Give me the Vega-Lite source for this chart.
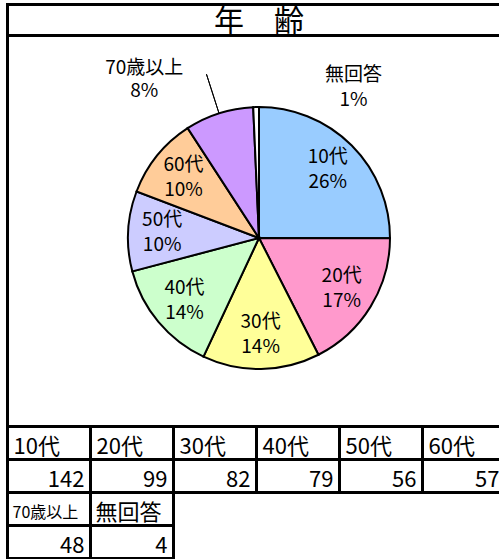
{
  "$schema": "https://vega.github.io/schema/vega-lite/v6.json",
  "padding": {"left": 4.5, "top": 1.5, "right": 0, "bottom": 0},
  "spacing": 0,
  "bounds": "flush",
  "background": "white",
  "config": {
    "font": "Noto Sans CJK JP",
    "view": {"stroke": "black", "strokeWidth": 3},
    "text": {"font": "Noto Sans CJK JP", "color": "black"},
    "concat": {"spacing": 0}
  },
  "datasets": {
    "age": [
      {"group": "10代", "count": 142, "pct": "26%", "order": 1},
      {"group": "20代", "count": 99, "pct": "17%", "order": 2},
      {"group": "30代", "count": 82, "pct": "14%", "order": 3},
      {"group": "40代", "count": 79, "pct": "14%", "order": 4},
      {"group": "50代", "count": 56, "pct": "10%", "order": 5},
      {"group": "60代", "count": 57, "pct": "10%", "order": 6},
      {"group": "70歳以上", "count": 48, "pct": "8%", "order": 7},
      {"group": "無回答", "count": 4, "pct": "1%", "order": 8}
    ]
  },
  "vconcat": [
    {
      "width": 503,
      "height": 31,
      "view": {"stroke": "black", "strokeWidth": 3},
      "data": {"values": [{"title": "年　齢"}]},
      "layer": [
        {
          "mark": {"type": "rect", "x": 0, "y": 0, "x2": "width", "y2": "height", "fill": null, "stroke": "black", "strokeWidth": 3},
          "encoding": {}
        },
        {
          "mark": {"type": "text", "fontSize": 30, "dy": 2},
          "encoding": {"text": {"field": "title", "type": "nominal"}}
        }
      ]
    },
    {
      "width": 503,
      "height": 391,
      "view": {"stroke": "black", "strokeWidth": 3},
      "data": {"name": "age"},
      "layer": [
        {
          "data": {"values": [{"frame": 1}]},
          "mark": {"type": "rect", "x": 0, "y": 0, "x2": "width", "y2": "height", "fill": null, "stroke": "black", "strokeWidth": 3},
          "encoding": {}
        },
        {
          "mark": {"type": "arc", "radius": 172, "radius2": 131, "padAngle": 1.5, "fill": null, "stroke": "black", "strokeWidth": 1, "y": {"expr": "item.mark.group.height/2+7"}},
          "encoding": {
            "theta": {"field": "count", "type": "quantitative", "stack": true},
            "order": {"field": "order", "type": "quantitative"},
            "strokeOpacity": {"condition": {"test": "datum.order === 7", "value": 1}, "value": 0}
          }
        },
        {
          "mark": {"type": "arc", "outerRadius": 131, "stroke": "black", "strokeWidth": 2, "y": {"expr": "item.mark.group.height/2+7"}},
          "encoding": {
            "theta": {"field": "count", "type": "quantitative", "stack": true},
            "order": {"field": "order", "type": "quantitative"},
            "color": {
              "field": "group", "type": "nominal", "legend": null,
              "scale": {
                "domain": ["10代", "20代", "30代", "40代", "50代", "60代", "70歳以上", "無回答"],
                "range": ["#99CCFF", "#FF99CC", "#FFFF99", "#CCFFCC", "#CCCCFF", "#FFCC99", "#CC99FF", "#FFFFFF"]
              }
            }
          }
        },
        {
          "transform": [{"filter": "datum.order <= 6"}],
          "mark": {"type": "text", "radius": 97, "dy": -12.5, "fontSize": 19, "y": {"expr": "item.mark.group.height/2+7"}},
          "encoding": {
            "theta": {"field": "count", "type": "quantitative", "stack": true},
            "order": {"field": "order", "type": "quantitative"},
            "text": {"field": "group", "type": "nominal"}
          }
        },
        {
          "transform": [{"filter": "datum.order <= 6"}],
          "mark": {"type": "text", "radius": 97, "dy": 12.5, "fontSize": 19, "y": {"expr": "item.mark.group.height/2+7"}},
          "encoding": {
            "theta": {"field": "count", "type": "quantitative", "stack": true},
            "order": {"field": "order", "type": "quantitative"},
            "text": {"field": "pct", "type": "nominal"}
          }
        },
        {
          "mark": {"type": "text", "radius": 140, "dx": -72, "dy": -36.5, "fontSize": 19, "y": {"expr": "item.mark.group.height/2+7"}},
          "encoding": {
            "theta": {"field": "count", "type": "quantitative", "stack": true},
            "order": {"field": "order", "type": "quantitative"},
            "text": {"condition": {"test": "datum.order !== 7", "value": ""}, "field": "group", "type": "nominal"}
          }
        },
        {
          "mark": {"type": "text", "radius": 140, "dx": -72, "dy": -13.5, "fontSize": 19, "y": {"expr": "item.mark.group.height/2+7"}},
          "encoding": {
            "theta": {"field": "count", "type": "quantitative", "stack": true},
            "order": {"field": "order", "type": "quantitative"},
            "text": {"condition": {"test": "datum.order !== 7", "value": ""}, "field": "pct", "type": "nominal"}
          }
        },
        {
          "mark": {"type": "text", "radius": 140, "dx": 97.5, "dy": -23, "fontSize": 19, "y": {"expr": "item.mark.group.height/2+7"}},
          "encoding": {
            "theta": {"field": "count", "type": "quantitative", "stack": true},
            "order": {"field": "order", "type": "quantitative"},
            "text": {"condition": {"test": "datum.order !== 8", "value": ""}, "field": "group", "type": "nominal"}
          }
        },
        {
          "mark": {"type": "text", "radius": 140, "dx": 97.5, "dy": 1.5, "fontSize": 19, "y": {"expr": "item.mark.group.height/2+7"}},
          "encoding": {
            "theta": {"field": "count", "type": "quantitative", "stack": true},
            "order": {"field": "order", "type": "quantitative"},
            "text": {"condition": {"test": "datum.order !== 8", "value": ""}, "field": "pct", "type": "nominal"}
          }
        }
      ]
    },
    {
      "width": 498,
      "height": 66,
      "view": {"stroke": null},
      "data": {"name": "age"},
      "transform": [{"filter": "datum.order <= 6"}],
      "encoding": {
        "x": {"field": "group", "type": "nominal", "sort": ["10代", "20代", "30代", "40代", "50代", "60代"], "axis": null, "scale": {"paddingInner": 0, "paddingOuter": 0}}
      },
      "layer": [
        {
          "mark": {"type": "rect", "fill": "white", "stroke": "black", "strokeWidth": 3},
          "encoding": {"y": {"datum": "header", "type": "nominal", "axis": null, "scale": {"domain": ["header", "value"], "paddingInner": 0, "paddingOuter": 0}}}
        },
        {
          "mark": {"type": "rect", "fill": "white", "stroke": "black", "strokeWidth": 3},
          "encoding": {"y": {"datum": "value", "type": "nominal"}}
        },
        {
          "mark": {"type": "text", "align": "left", "dx": 6, "dy": 4, "fontSize": 22},
          "encoding": {
            "x": {"field": "group", "type": "nominal", "sort": ["10代", "20代", "30代", "40代", "50代", "60代"], "bandPosition": 0},
            "y": {"datum": "header", "type": "nominal"},
            "text": {"field": "group", "type": "nominal"}
          }
        },
        {
          "mark": {"type": "text", "align": "right", "dx": -6, "dy": 4, "fontSize": 22},
          "encoding": {
            "x": {"field": "group", "type": "nominal", "sort": ["10代", "20代", "30代", "40代", "50代", "60代"], "bandPosition": 1},
            "y": {"datum": "value", "type": "nominal"},
            "text": {"field": "count", "type": "quantitative"}
          }
        }
      ]
    },
    {
      "width": 166,
      "height": 66,
      "view": {"stroke": null},
      "data": {"name": "age"},
      "transform": [{"filter": "datum.order >= 7"}],
      "encoding": {
        "x": {"field": "group", "type": "nominal", "sort": ["70歳以上", "無回答"], "axis": null, "scale": {"paddingInner": 0, "paddingOuter": 0}}
      },
      "layer": [
        {
          "mark": {"type": "rect", "fill": "white", "stroke": "black", "strokeWidth": 3},
          "encoding": {"y": {"datum": "header", "type": "nominal", "axis": null, "scale": {"domain": ["header", "value"], "paddingInner": 0, "paddingOuter": 0}}}
        },
        {
          "mark": {"type": "rect", "fill": "white", "stroke": "black", "strokeWidth": 3},
          "encoding": {"y": {"datum": "value", "type": "nominal"}}
        },
        {
          "mark": {"type": "text", "align": "left", "dx": 5, "dy": 4},
          "encoding": {
            "x": {"field": "group", "type": "nominal", "sort": ["70歳以上", "無回答"], "bandPosition": 0},
            "y": {"datum": "header", "type": "nominal"},
            "text": {"field": "group", "type": "nominal"},
            "size": {"condition": {"test": "datum.group === '70歳以上'", "value": 16}, "value": 22}
          }
        },
        {
          "mark": {"type": "text", "align": "right", "dx": -6, "dy": 4, "fontSize": 22},
          "encoding": {
            "x": {"field": "group", "type": "nominal", "sort": ["70歳以上", "無回答"], "bandPosition": 1},
            "y": {"datum": "value", "type": "nominal"},
            "text": {"field": "count", "type": "quantitative"}
          }
        }
      ]
    }
  ]
}
